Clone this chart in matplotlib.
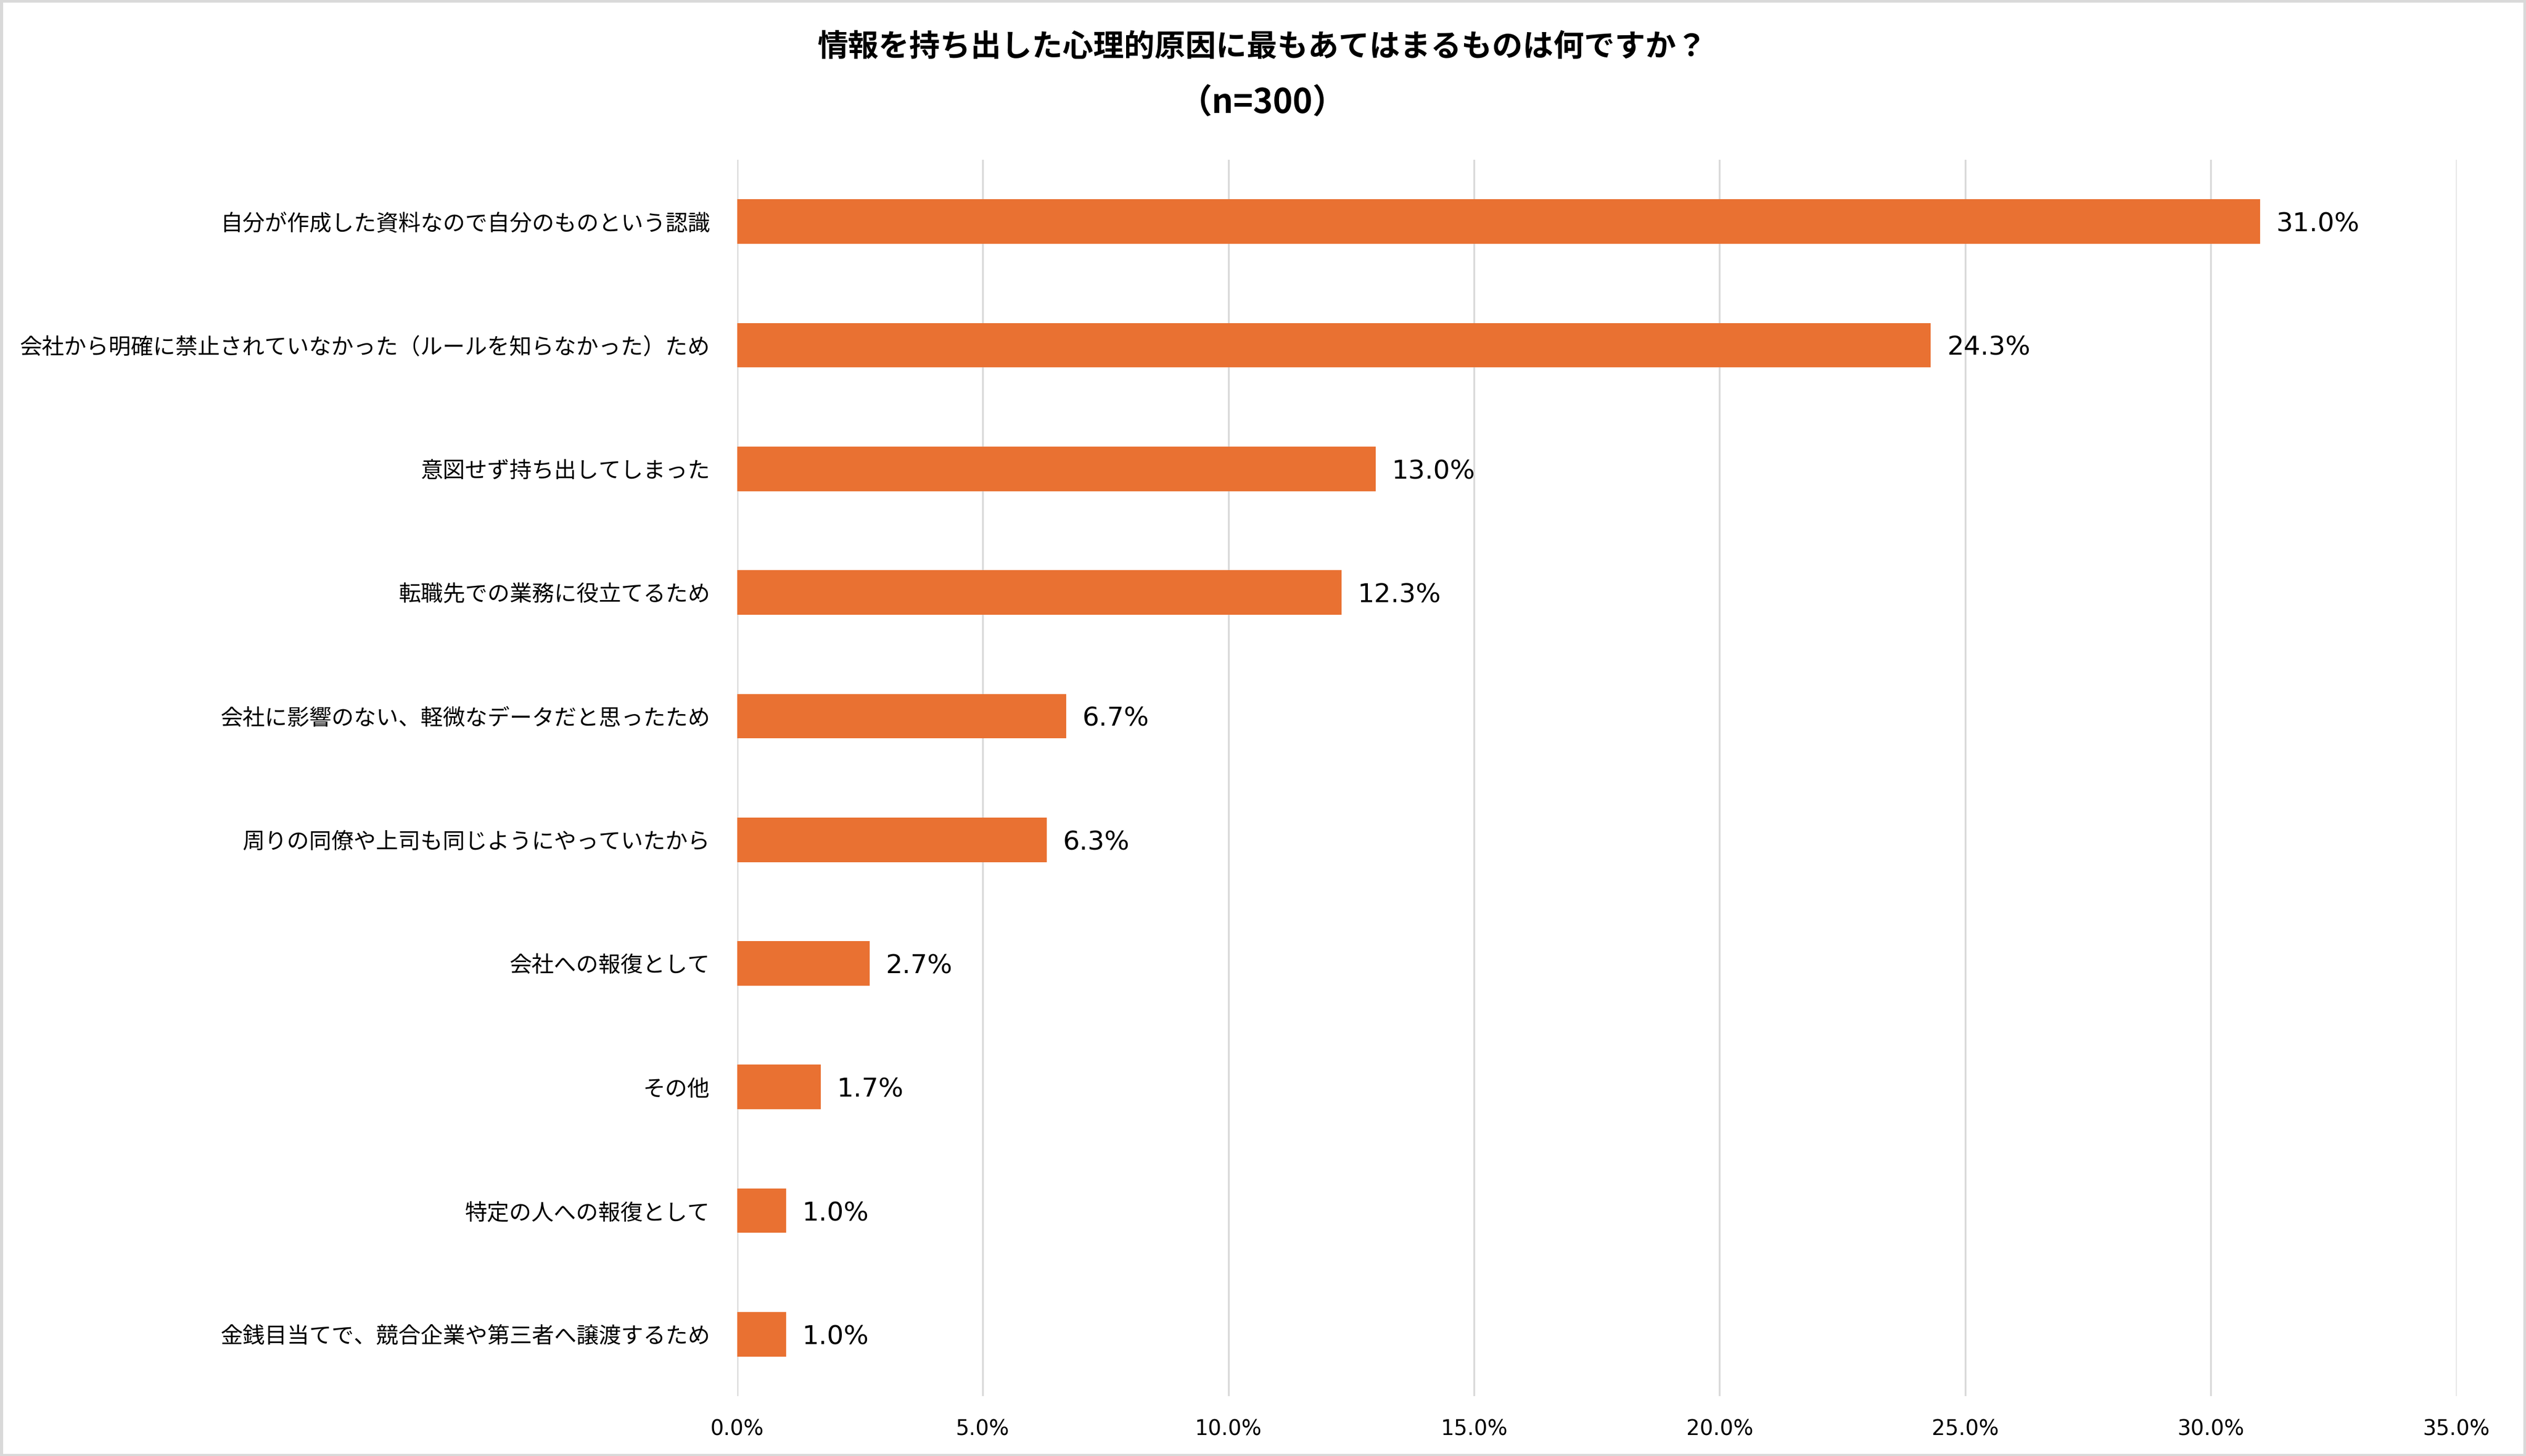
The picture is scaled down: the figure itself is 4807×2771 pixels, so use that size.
import numpy as np
import matplotlib.pyplot as plt
from matplotlib.patches import Rectangle

categories = [
    "自分が作成した資料なので自分のものという認識",
    "会社から明確に禁止されていなかった（ルールを知らなかった）ため",
    "意図せず持ち出してしまった",
    "転職先での業務に役立てるため",
    "会社に影響のない、軽微なデータだと思ったため",
    "周りの同僚や上司も同じようにやっていたから",
    "会社への報復として",
    "その他",
    "特定の人への報復として",
    "金銭目当てで、競合企業や第三者へ譲渡するため",
]
values = [31.0, 24.3, 13.0, 12.3, 6.7, 6.3, 2.7, 1.7, 1.0, 1.0]
xticks = [0, 5, 10, 15, 20, 25, 30, 35]

title = "情報を持ち出した心理的原因に最もあてはまるものは何ですか？"
subtitle = "（n=300）"

JP = ["Noto Sans CJK JP", "DejaVu Sans"]
NUM = ["DejaVu Sans", "Noto Sans CJK JP"]
bar_color = "#E97132"
grid_color = "#D9D9D9"

fig = plt.figure(figsize=(48.07, 27.71), dpi=100)
ax = fig.add_axes([0.2918, 0.0411, 0.6807, 0.8492])

y = np.arange(len(categories))
ax.barh(y, values, height=0.36, color=bar_color, zorder=3)
ax.set_ylim(len(categories) - 0.5, -0.5)
ax.set_xlim(0, 35)

ax.set_yticks(y)
ax.set_yticklabels(categories, fontfamily=JP, fontsize=30.5)
ax.set_xticks(xticks)
ax.set_xticklabels([f"{t:.1f}%" for t in xticks], fontfamily=NUM, fontsize=29)
ax.tick_params(axis="y", length=0, pad=37)
ax.tick_params(axis="x", length=0, pad=31)

ax.grid(axis="x", color=grid_color, linewidth=2.5, zorder=0)
for s in ax.spines.values():
    s.set_visible(False)

for yi, v in zip(y, values):
    ax.annotate(f"{v:.1f}%", xy=(v, yi), xytext=(22, 0), textcoords="offset points",
                va="center_baseline", ha="left", fontsize=36, fontfamily=NUM)

fig.text(0.4998, 1 - 90 / 2771, title, ha="center", va="center",
         fontsize=42, fontweight="bold", fontfamily=JP)
fig.text(0.4998, 1 - 197 / 2771, subtitle, ha="center", va="center",
         fontsize=46, fontweight="bold", fontfamily=JP)

fig.patches.append(Rectangle((0.0005, 0.0005), 0.999, 0.999, transform=fig.transFigure,
                             fill=False, edgecolor=grid_color, linewidth=5))

fig.savefig("out.png", dpi=100, facecolor="white")
